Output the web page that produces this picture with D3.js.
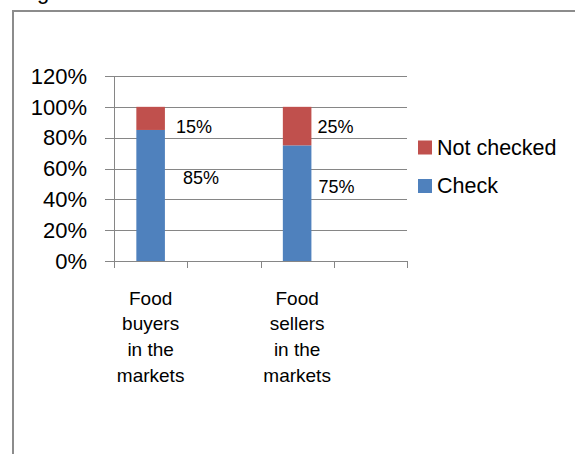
<!DOCTYPE html>
<html><head><meta charset="utf-8">
<script src="https://cdn.jsdelivr.net/npm/d3@7"></script>
<style>html,body{margin:0;padding:0;background:#fff;}svg{display:block;}</style>
</head><body>
<script>
// ---- data ----
const categories = ["Food buyers in the markets", "gap1", "Food sellers in the markets", "gap2"];
const categoryLines = [["Food","buyers","in the","markets"], [], ["Food","sellers","in the","markets"], []];
const checkValues = [85, null, 75, null];
const notCheckedValues = [15, null, 25, null];
const seriesNames = ["Not checked", "Check"];
const yTicks = [0, 20, 40, 60, 80, 100, 120];
// data label placement (x offset from bar edge in px, y in value units)
const checkLabelPos = [[18, 54], null, [7, 48], null];
const notCheckedLabelPos = [[11, 87], null, [6, 87], null];

const W = 575, H = 454;
const colors = {"Check": "#4F81BD", "Not checked": "#C0504D"};
const font = "'Liberation Sans', Arial, sans-serif";

const svg = d3.select("body").append("svg").attr("width", W).attr("height", H);

// frame (cropped)
svg.append("line").attr("x1", 13).attr("x2", W).attr("y1", 11).attr("y2", 11)
  .attr("stroke", "#8c8c8c").attr("stroke-width", 2);
svg.append("line").attr("x1", 13).attr("x2", 13).attr("y1", 10).attr("y2", H)
  .attr("stroke", "#8c8c8c").attr("stroke-width", 2);
// cropped caption glyph above the frame
svg.append("text").attr("x", 37).attr("y", -1.5).attr("font-family", font)
  .attr("font-size", 22).attr("fill", "#000").text("g");

const x = d3.scaleBand().domain(categories).range([114, 407]).padding(0);
const y = d3.scaleLinear().domain([0, 120]).range([261, 76]);
const barW = x.bandwidth() * 0.39;

// gridlines
svg.append("g").selectAll("line").data(yTicks).join("line")
  .attr("x1", 105).attr("x2", 407)
  .attr("y1", d => Math.round(y(d)) + 0.5).attr("y2", d => Math.round(y(d)) + 0.5)
  .attr("stroke", "#868686").attr("stroke-width", 1);

// y axis line
svg.append("line").attr("x1", 114.5).attr("x2", 114.5).attr("y1", y(120)).attr("y2", 268)
  .attr("stroke", "#868686").attr("stroke-width", 1);

// x tick marks
const xTickPos = categories.map(c => x(c)).concat([x.range()[1]]);
svg.append("g").selectAll("line").data(xTickPos).join("line")
  .attr("x1", d => Math.round(d) + 0.5).attr("x2", d => Math.round(d) + 0.5)
  .attr("y1", y(0)).attr("y2", 268)
  .attr("stroke", "#868686").attr("stroke-width", 1);

// y tick labels
svg.append("g").selectAll("text").data(yTicks).join("text")
  .attr("x", 87).attr("y", d => y(d)).attr("dy", "0.35em")
  .attr("text-anchor", "end").attr("font-family", font).attr("font-size", 22)
  .attr("fill", "#000").text(d => d + "%");

// bars
const idx = d3.range(categories.length).filter(i => checkValues[i] != null);
const gBars = svg.append("g");
gBars.selectAll("rect.check").data(idx).join("rect").attr("class", "check")
  .attr("x", i => x(categories[i]) + (x.bandwidth() - barW) / 2)
  .attr("width", barW)
  .attr("y", i => y(checkValues[i]))
  .attr("height", i => y(0) - y(checkValues[i]))
  .attr("fill", colors["Check"]);
gBars.selectAll("rect.nc").data(idx).join("rect").attr("class", "nc")
  .attr("x", i => x(categories[i]) + (x.bandwidth() - barW) / 2)
  .attr("width", barW)
  .attr("y", i => y(checkValues[i] + notCheckedValues[i]))
  .attr("height", i => y(checkValues[i]) - y(checkValues[i] + notCheckedValues[i]))
  .attr("fill", colors["Not checked"]);

// data labels
const barRight = i => x(categories[i]) + (x.bandwidth() + barW) / 2;
svg.append("g").selectAll("text").data(idx).join("text")
  .attr("x", i => barRight(i) + checkLabelPos[i][0])
  .attr("y", i => y(checkLabelPos[i][1])).attr("dy", "0.35em")
  .attr("font-family", font).attr("font-size", 18).attr("fill", "#000")
  .text(i => checkValues[i] + "%");
svg.append("g").selectAll("text").data(idx).join("text")
  .attr("x", i => barRight(i) + notCheckedLabelPos[i][0])
  .attr("y", i => y(notCheckedLabelPos[i][1])).attr("dy", "0.35em")
  .attr("font-family", font).attr("font-size", 18).attr("fill", "#000")
  .text(i => notCheckedValues[i] + "%");

// category labels
categories.forEach((c, i) => {
  const lines = categoryLines[i];
  if (!lines.length) return;
  const t = svg.append("text").attr("text-anchor", "middle")
    .attr("font-family", font).attr("font-size", 19).attr("fill", "#000");
  lines.forEach((ln, k) => {
    t.append("tspan").attr("x", x(c) + x.bandwidth() / 2)
      .attr("y", 298 + k * 25.7).attr("dy", "0.35em").text(ln);
  });
});

// legend
const legend = svg.append("g");
seriesNames.forEach((s, k) => {
  const cy = 147 + k * 38.5;
  legend.append("rect").attr("x", 418).attr("y", cy - 6.5).attr("width", 14).attr("height", 14)
    .attr("fill", colors[s]);
  legend.append("text").attr("x", 437).attr("y", cy).attr("dy", "0.35em")
    .attr("font-family", font).attr("font-size", 21.5).attr("fill", "#000").text(s);
});
</script>
</body></html>
